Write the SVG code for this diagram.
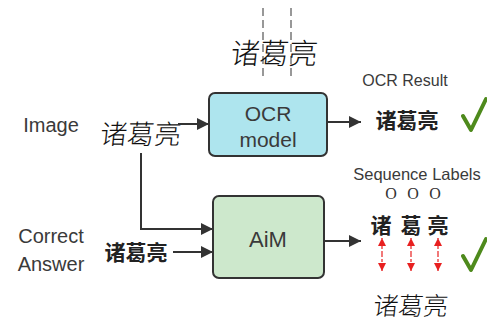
<svg xmlns="http://www.w3.org/2000/svg" width="487" height="322" viewBox="0 0 487 322">
<defs>
<style>
.lbl{font-family:"Liberation Sans","Noto Sans",Arial,sans-serif;fill:#3a3a3a}
.cjk{font-family:"Noto Sans CJK SC","Noto Sans CJK JP",sans-serif;font-weight:700;fill:#222}
.hw{font-family:"Noto Sans CJK SC","Noto Sans CJK JP",sans-serif;font-weight:300;fill:#111}
.conn{stroke:#333;stroke-width:2;fill:none}
.box{stroke:#333;stroke-width:2}
.check{stroke:#4e8a1c;stroke-width:4;fill:none;stroke-linecap:round;stroke-linejoin:round}
.red{stroke:#e82020;stroke-width:1.2;stroke-dasharray:3 2;fill:none}
.oo{font-family:"Liberation Serif",serif;font-size:16px;fill:#333}
</style>
<marker id="ah" viewBox="0 0 10 10" refX="10" refY="5" markerWidth="12" markerHeight="12" markerUnits="userSpaceOnUse" orient="auto">
<path d="M0,0 L10,5 L0,10 z" fill="#333"/>
</marker>
<marker id="rh" viewBox="0 0 10 10" refX="10" refY="5" markerWidth="8" markerHeight="8" markerUnits="userSpaceOnUse" orient="auto">
<path d="M0,0 L10,5 L0,10 z" fill="#e82020"/>
</marker>
</defs>
<rect width="487" height="322" fill="#fff"/>

<g id="top-image">
<line x1="263" y1="8" x2="263" y2="76" stroke="#777" stroke-width="1.5" stroke-dasharray="8 4"/>
<line x1="291" y1="8" x2="291" y2="76" stroke="#777" stroke-width="1.5" stroke-dasharray="8 4"/>
<text class="hw" x="273" y="64" font-size="29" text-anchor="middle" transform="skewX(-6) translate(7,0)">诸葛亮</text>
</g>

<g id="image-label"><text class="lbl" x="51" y="132" font-size="20" text-anchor="middle">Image</text></g>
<g id="image-input"><text class="hw" x="140" y="144" font-size="27" text-anchor="middle" transform="skewX(-6) translate(15,0)">诸葛亮</text></g>

<g id="ocr-model">
<rect class="box" x="209" y="93" width="118" height="63" rx="6" fill="#aee5ee"/>
<text class="lbl" x="268" y="121" font-size="21" text-anchor="middle" fill="#333">OCR</text>
<text class="lbl" x="268" y="147" font-size="21" text-anchor="middle" fill="#333">model</text>
</g>

<g id="ocr-result">
<text class="lbl" x="405" y="86" font-size="16" text-anchor="middle">OCR Result</text>
<text class="cjk" x="407" y="128" font-size="21" text-anchor="middle">诸葛亮</text>
<path class="check" d="M463,116 L471,130 L486,99"/>
</g>

<g id="correct-answer-label">
<text class="lbl" x="51" y="243" font-size="20" text-anchor="middle">Correct</text>
<text class="lbl" x="51" y="271" font-size="20" text-anchor="middle">Answer</text>
</g>
<g id="answer-text"><text class="cjk" x="136" y="260" font-size="21" text-anchor="middle">诸葛亮</text></g>

<g id="aim">
<rect class="box" x="213" y="196" width="111" height="82" rx="6" fill="#cde8cc"/>
<text class="lbl" x="268" y="247" font-size="22" text-anchor="middle" fill="#333">AiM</text>
</g>

<g id="sequence-labels">
<text class="lbl" x="417" y="180" font-size="16.5" text-anchor="middle">Sequence Labels</text>
<text class="oo" x="391" y="199" text-anchor="middle">O</text>
<text class="oo" x="413" y="199" text-anchor="middle">O</text>
<text class="oo" x="435" y="199" text-anchor="middle">O</text>
<text class="cjk" x="381" y="233" font-size="21" text-anchor="middle">诸</text>
<text class="cjk" x="411" y="233" font-size="21" text-anchor="middle">葛</text>
<text class="cjk" x="438" y="233" font-size="21" text-anchor="middle">亮</text>
<line class="red" x1="382" y1="254" x2="382" y2="238" marker-end="url(#rh)"/>
<line class="red" x1="382" y1="254" x2="382" y2="271" marker-end="url(#rh)"/>
<line class="red" x1="411" y1="254" x2="411" y2="238" marker-end="url(#rh)"/>
<line class="red" x1="411" y1="254" x2="411" y2="271" marker-end="url(#rh)"/>
<line class="red" x1="438" y1="254" x2="438" y2="238" marker-end="url(#rh)"/>
<line class="red" x1="438" y1="254" x2="438" y2="271" marker-end="url(#rh)"/>
<path class="check" d="M463,256 L471,270 L486,239"/>
<text class="hw" x="410" y="315" font-size="25" text-anchor="middle" transform="skewX(-6) translate(33,0)">诸葛亮</text>
</g>

<g id="connectors">
<line class="conn" x1="178" y1="124" x2="209" y2="124" marker-end="url(#ah)"/>
<line class="conn" x1="327" y1="122" x2="361" y2="122" marker-end="url(#ah)"/>
<polyline class="conn" points="141,153 141,229 213,229" marker-end="url(#ah)"/>
<line class="conn" x1="173" y1="252" x2="213" y2="252" marker-end="url(#ah)"/>
<line class="conn" x1="324" y1="241" x2="361" y2="241" marker-end="url(#ah)"/>
</g>
</svg>
